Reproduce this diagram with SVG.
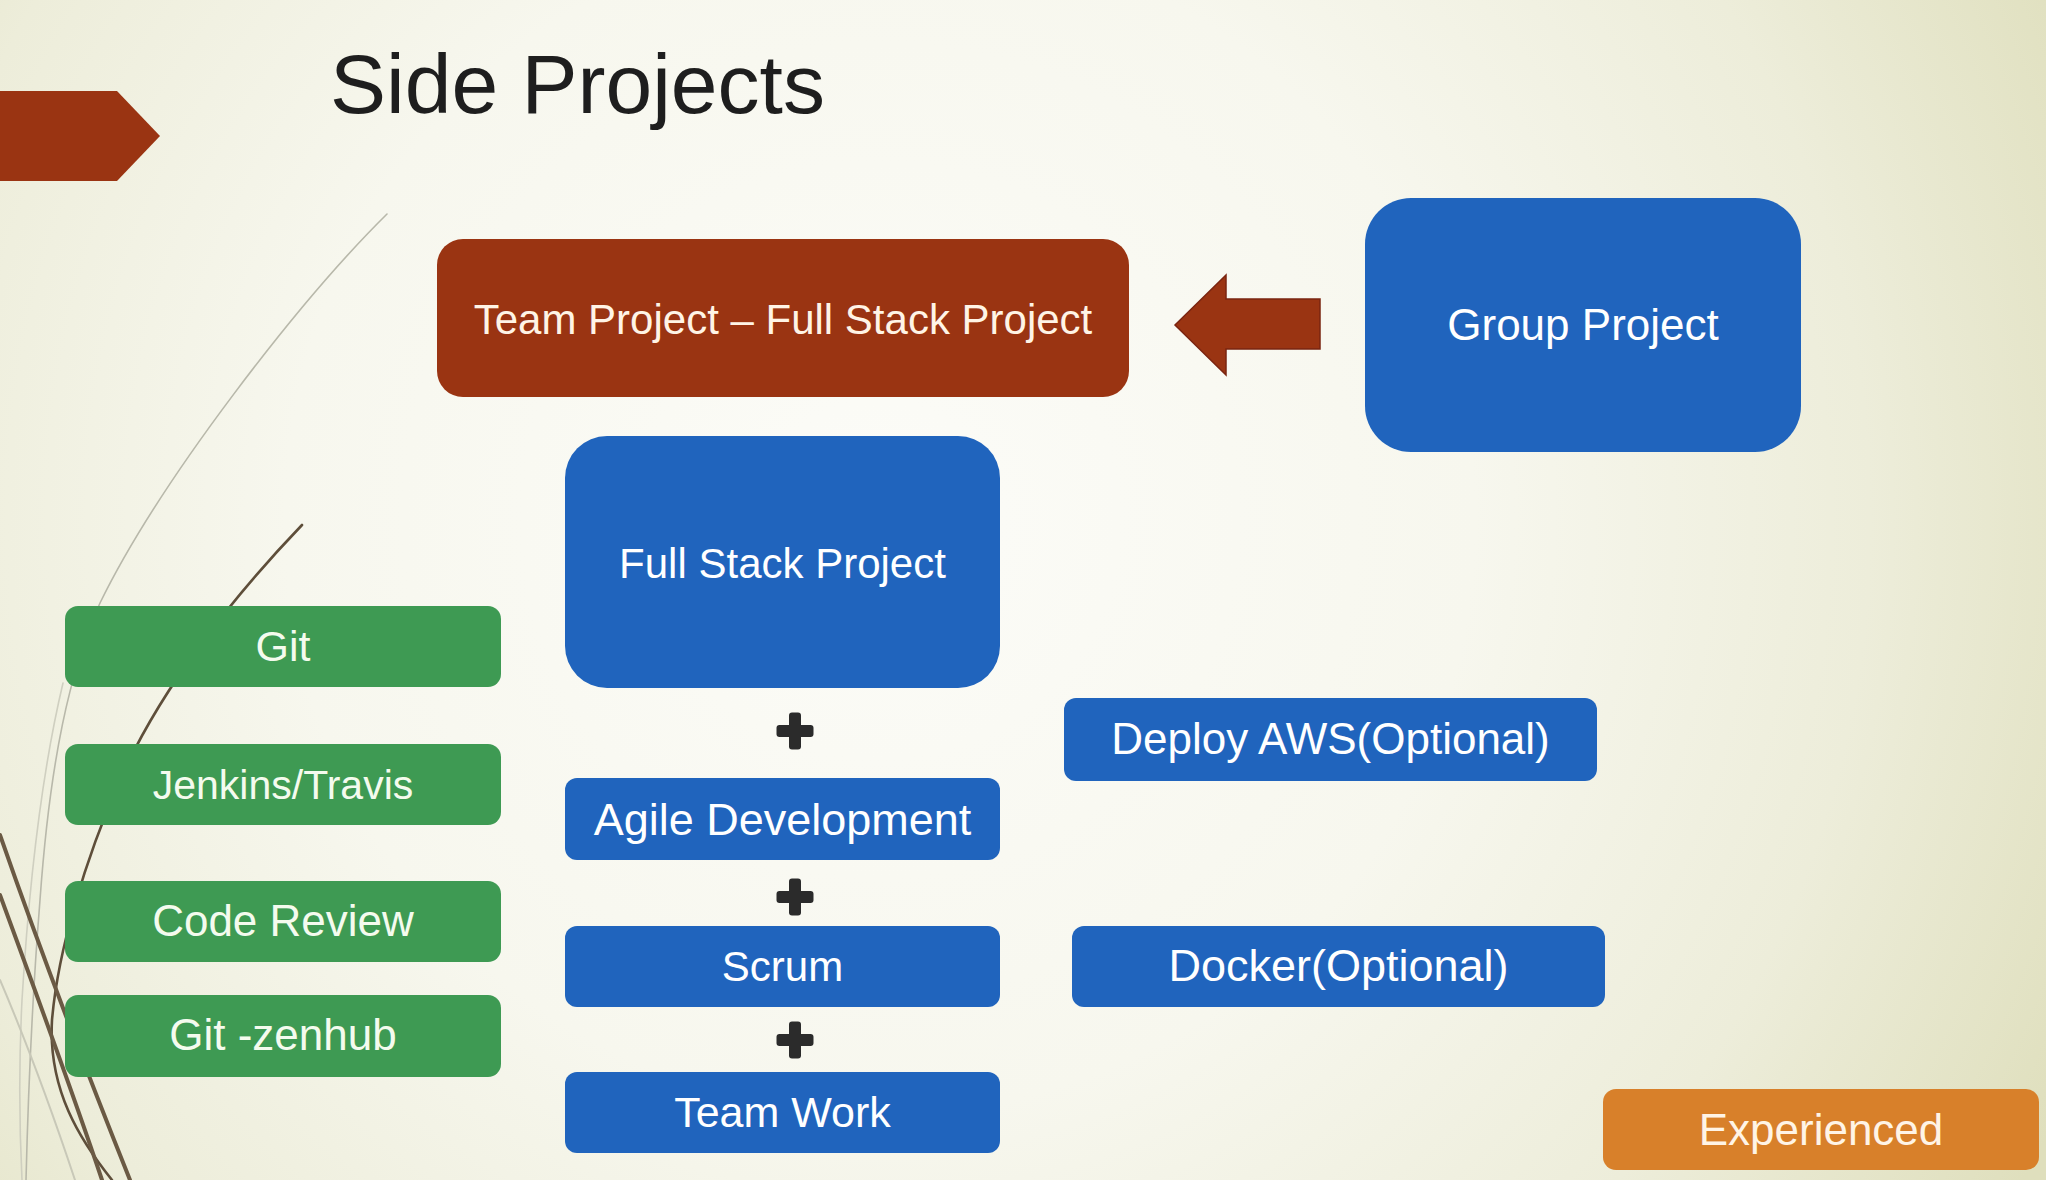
<svg xmlns="http://www.w3.org/2000/svg" xmlns:xlink="http://www.w3.org/1999/xlink" width="2046" height="1180" viewBox="0 0 2046 1180">
<defs>
<radialGradient id="bg" cx="880" cy="520" r="1320" gradientUnits="userSpaceOnUse">
<stop offset="0" stop-color="#FCFCF8"/>
<stop offset="0.45" stop-color="#F7F7EE"/>
<stop offset="0.75" stop-color="#EDEDDA"/>
<stop offset="1" stop-color="#DFDFBD"/>
</radialGradient>
<g id="plus">
<rect x="-18.5" y="-6" width="37" height="12" rx="3" fill="#2B2B2B"/>
<rect x="-6" y="-18.5" width="12" height="37" rx="3" fill="#2B2B2B"/>
</g>
</defs>
<style>
text{font-family:"Liberation Sans",Arial,sans-serif;text-anchor:middle}
.blue{fill:#2064BD}
.green{fill:#3E9A53}
.brown{fill:#9A3412}
.orange{fill:#D8802A}
.tw{fill:#FFFFFF}
.tg{fill:#F4FBEE}
.tc{fill:#FFF4E6}
.deco{fill:none;stroke-linecap:round}
</style>
<rect x="0" y="0" width="2046" height="1180" fill="url(#bg)"/>

<g id="decoration">
<path class="deco" d="M387 214 C300 300 160 480 100 603 C70 670 50 760 40 900 C32 1000 28 1100 26 1180" stroke="#B8B8AA" stroke-width="1.6"/>
<path class="deco" d="M63 683 C40 780 28 900 22 1000 C18 1080 20 1140 22 1180" stroke="#CFCFC0" stroke-width="1.6"/>
<path class="deco" d="M302 525 C230 600 160 690 120 780 C85 860 58 950 52 1020 C48 1090 80 1140 112 1180" stroke="#5E4E3A" stroke-width="2.6"/>
<path class="deco" d="M0 835 C40 950 90 1080 130 1180" stroke="#6B5A44" stroke-width="4"/>
<path class="deco" d="M0 895 C35 990 72 1090 102 1180" stroke="#6B5A44" stroke-width="4"/>
<path class="deco" d="M0 980 C30 1050 55 1120 75 1180" stroke="#C8C8B8" stroke-width="2"/>
</g>

<g id="chevron">
<polygon class="brown" points="0,91 117,91 160,136 117,181 0,181"/>
</g>

<g id="title">
<text x="330" y="113" font-size="84" fill="#1E1E1E" style="text-anchor:start">Side Projects</text>
</g>

<g id="connectors">
<polygon points="1175,325 1226,275 1226,299 1320,299 1320,349 1226,349 1226,375" fill="#9A3412" stroke="#7A2410" stroke-width="1.5"/>
<use xlink:href="#plus" x="795" y="731"/>
<use xlink:href="#plus" x="795" y="897"/>
<use xlink:href="#plus" x="795" y="1040"/>
</g>

<g id="team-project">
<rect class="brown" x="437" y="239" width="692" height="158" rx="26"/>
<text class="tc" x="783" y="334" font-size="42">Team Project – Full Stack Project</text>
</g>

<g id="group-project">
<rect class="blue" x="1365" y="198" width="436" height="254" rx="46"/>
<text class="tw" x="1583" y="340" font-size="44">Group Project</text>
</g>

<g id="full-stack-project">
<rect class="blue" x="565" y="436" width="435" height="252" rx="42"/>
<text class="tw" x="782.5" y="578" font-size="42">Full Stack Project</text>
</g>

<g id="git">
<rect class="green" x="65" y="606" width="436" height="81" rx="13"/>
<text class="tg" x="283" y="661" font-size="43">Git</text>
</g>

<g id="jenkins-travis">
<rect class="green" x="65" y="744" width="436" height="81" rx="13"/>
<text class="tg" x="283" y="799" font-size="41">Jenkins/Travis</text>
</g>

<g id="code-review">
<rect class="green" x="65" y="881" width="436" height="81" rx="13"/>
<text class="tg" x="283" y="936" font-size="44">Code Review</text>
</g>

<g id="git-zenhub">
<rect class="green" x="65" y="995" width="436" height="82" rx="13"/>
<text class="tg" x="283" y="1050" font-size="44">Git -zenhub</text>
</g>

<g id="agile-development">
<rect class="blue" x="565" y="778" width="435" height="82" rx="12"/>
<text class="tw" x="782.5" y="835" font-size="45">Agile Development</text>
</g>

<g id="scrum">
<rect class="blue" x="565" y="926" width="435" height="81" rx="12"/>
<text class="tw" x="782.5" y="981" font-size="42">Scrum</text>
</g>

<g id="team-work">
<rect class="blue" x="565" y="1072" width="435" height="81" rx="12"/>
<text class="tw" x="782.5" y="1127" font-size="43">Team Work</text>
</g>

<g id="deploy-aws">
<rect class="blue" x="1064" y="698" width="533" height="83" rx="12"/>
<text class="tw" x="1330.5" y="754" font-size="44">Deploy AWS(Optional)</text>
</g>

<g id="docker">
<rect class="blue" x="1072" y="926" width="533" height="81" rx="12"/>
<text class="tw" x="1338.5" y="981" font-size="45">Docker(Optional)</text>
</g>

<g id="experienced">
<rect class="orange" x="1603" y="1089" width="436" height="81" rx="13"/>
<text class="tc" x="1821" y="1145" font-size="44">Experienced</text>
</g>
</svg>
